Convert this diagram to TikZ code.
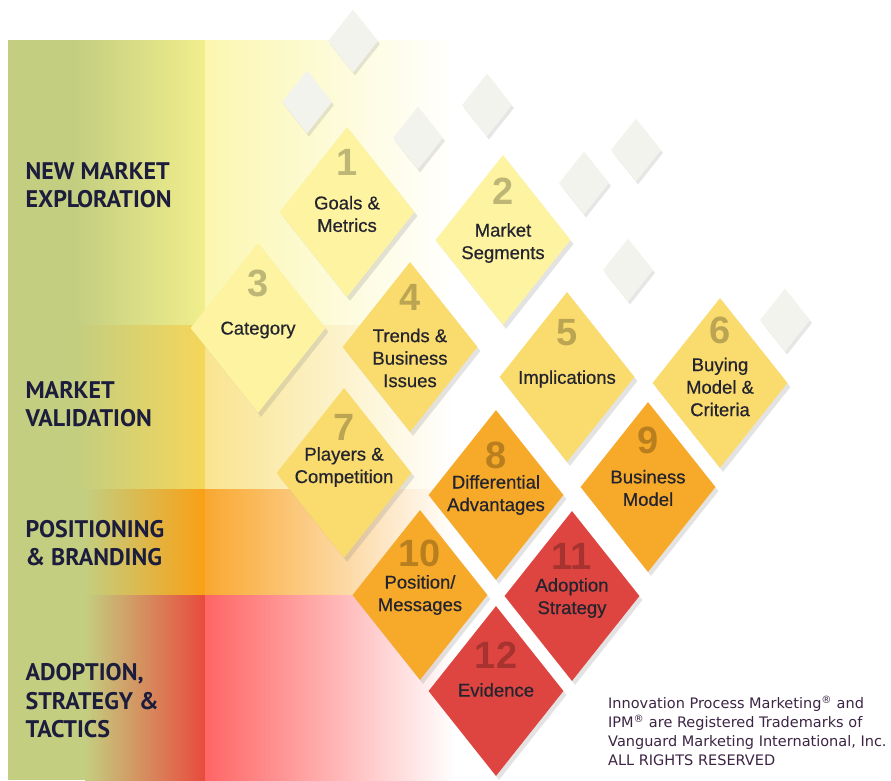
\documentclass[tikz,border=0pt]{standalone}
\usepackage{fontspec}
\setmainfont{Liberation Sans}
\newfontfamily\bandfont{PT Sans}
\newfontfamily\notefont{DejaVu Sans}
\newfontfamily\tilefont[FakeBold=0.6]{Liberation Sans}
\usepackage{tikz}
\usetikzlibrary{shapes.geometric,shadows,positioning}

\definecolor{leafgreen}{HTML}{C3CE80}
\definecolor{bandA}{HTML}{F1EE8C}
\definecolor{bandB}{HTML}{F5D65A}
\definecolor{bandC}{HTML}{F9A014}
\definecolor{bandD}{HTML}{E84B3C}
\definecolor{paleA}{HTML}{FBF7B0}
\definecolor{paleB}{HTML}{F9E490}
\definecolor{paleC}{HTML}{F9A830}
\definecolor{paleD}{HTML}{FF6565}
\definecolor{tileA}{HTML}{FDF3A0}
\definecolor{tileB}{HTML}{FADC6E}
\definecolor{tileC}{HTML}{F7AA2A}
\definecolor{tileD}{HTML}{DE4540}
\definecolor{chipgray}{HTML}{F3F3EE}
\definecolor{navy}{HTML}{1C1C3C}
\definecolor{ink}{HTML}{24242F}
\definecolor{plum}{HTML}{3C2444}

\begin{document}
\begin{tikzpicture}[x=1pt,y=-1pt,
    tile/.style={diamond,minimum width=135pt,minimum height=170pt,inner sep=0pt,
      drop shadow={opacity=0.22,shadow xshift=3pt,shadow yshift=-4pt}},
    chip/.style={diamond,fill=chipgray,minimum width=50pt,minimum height=63pt,inner sep=0pt,
      drop shadow={opacity=0.2,shadow xshift=2pt,shadow yshift=-3pt}},
    num/.style={font=\bfseries\fontsize{38}{38}\selectfont,text=black,text opacity=0.25},
    lbl/.style={font=\tilefont\fontsize{18.5}{22.5}\selectfont,text=ink,align=center},
    band/.style={font=\bandfont\bfseries\fontsize{24}{28.5}\selectfont,text=navy,align=left,anchor=west}]
  \useasboundingbox (0,0) rectangle (891,780);

  % left strip and bands
  \fill[leafgreen] (8,40) rectangle (85,780);
  \shade[left color=leafgreen,right color=bandA] (75,40) rectangle (205,325);
  \shade[left color=leafgreen,right color=bandB] (75,325) rectangle (205,489);
  \shade[left color=leafgreen,right color=bandC] (85,489) rectangle (205,595);
  \shade[left color=leafgreen,right color=bandD] (85,595) rectangle (205,780);
  \shade[left color=paleA,right color=white] (205,40) rectangle (455,325);
  \shade[left color=paleB,right color=white] (205,325) rectangle (455,489);
  \shade[left color=paleC,right color=white] (205,489) rectangle (455,595);
  \shade[left color=paleD,right color=white] (205,595) rectangle (455,780);

  \node[band] (explore) at (22,185) {NEW MARKET\\EXPLORATION};
  \node[band] (validate) at (22,404) {MARKET\\VALIDATION};
  \node[band] (brand) at (22,543) {POSITIONING\\\& BRANDING};
  \node[band] (tactics) at (22,701) {ADOPTION,\\STRATEGY \&\\TACTICS};

  % small blank diamonds
  \node[chip] (c1) at (353,41) {};
  \node[chip] (c2) at (307,102) {};
  \node[chip] (c3) at (418,138) {};
  \node[chip] (c4) at (487,105) {};
  \node[chip] (c5) at (584,183) {};
  \node[chip] (c6) at (636,150) {};
  \node[chip] (c7) at (628,270) {};
  \node[chip] (c8) at (785,320) {};

  % numbered diamonds
  \node[tile,fill=tileA] (d1) at (347,212) {};
  \node[num] at (347,162) {1};
  \node[lbl] (l1) at (347,214) {Goals \&\\Metrics};
  \node[tile,fill=tileA] (d2) at (503,240) {};
  \node[num] at (503,191) {2};
  \node[lbl] (l2) at (503,243) {Market\\Segments};
  \node[tile,fill=tileA] (d3) at (258,328) {};
  \node[num] at (258,283) {3};
  \node[lbl] (l3) at (258,330) {Category};
  \node[tile,fill=tileB] (d4) at (410,347) {};
  \node[num] at (410,297) {4};
  \node[lbl] (l4) at (410,358) {Trends \&\\Business\\Issues};
  \node[tile,fill=tileB] (d5) at (567,377) {};
  \node[num] at (567,333) {5};
  \node[lbl] (l5) at (567,379) {Implications};
  \node[tile,fill=tileB] (d6) at (720,383) {};
  \node[num] at (720,330) {6};
  \node[lbl] (l6) at (720,387) {Buying\\Model \&\\Criteria};
  \node[tile,fill=tileB] (d7) at (344,473) {};
  \node[num] at (344,427) {7};
  \node[lbl] (l7) at (344,467) {Players \&\\Competition};
  \node[tile,fill=tileC] (d8) at (496,495) {};
  \node[num] at (496,455) {8};
  \node[lbl] (l8) at (496,495) {Differential\\Advantages};
  \node[tile,fill=tileC] (d9) at (648,487) {};
  \node[num] at (648,440) {9};
  \node[lbl] (l9) at (648,488) {Business\\Model};
  \node[tile,fill=tileC] (d10) at (420,595) {};
  \node[num] at (420,553) {10};
  \node[lbl] (l10) at (420,595) {Position/\\Messages};
  \node[tile,fill=tileD] (d11) at (572,596) {};
  \node[num] at (572,556) {11};
  \node[lbl] (l11) at (572,598) {Adoption\\Strategy};
  \node[tile,fill=tileD] (d12) at (496,691) {};
  \node[num] at (496,655) {12};
  \node[lbl] (l12) at (496,690) {Evidence};

  \node[font=\notefont\fontsize{14.5}{19}\selectfont,text=plum,align=left,anchor=west,inner sep=0pt] (notice) at (608,731)
    {Innovation Process Marketing\textsuperscript{\textregistered} and\\
     IPM\textsuperscript{\textregistered} are Registered Trademarks of\\
     Vanguard Marketing International, Inc.\\
     ALL RIGHTS RESERVED};
\end{tikzpicture}
\end{document}
